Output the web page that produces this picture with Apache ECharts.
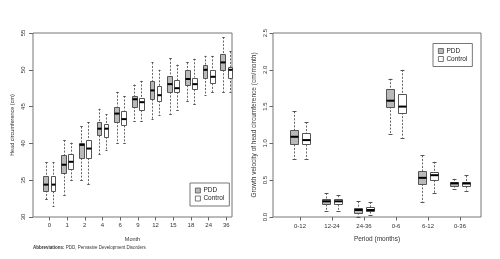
<!DOCTYPE html>
<html>
<head>
<meta charset="utf-8">
<script src="https://cdn.jsdelivr.net/npm/echarts@6/dist/echarts.min.js"></script>
<style>html,body{margin:0;padding:0;background:#fff}#c{width:500px;height:259px}</style>
</head>
<body>
<div id="c"></div>
<script>
// ---------- data ----------
const months = ['0','1','2','4','6','9','12','15','18','24','36'];
// [low whisker, Q1, median, Q3, high whisker]
const hcPDD = [
  [32.4, 33.6, 34.4, 35.55, 37.45],
  [33.05, 36.0, 37.1, 38.36, 40.45],
  [35.05, 38.0, 39.8, 40.0, 42.3],
  [38.55, 41.1, 42.0, 42.95, 44.7],
  [40.0, 42.95, 44.05, 45.0, 47.0],
  [43.1, 45.0, 46.0, 46.45, 48.0],
  [43.27, 46.0, 47.2, 48.5, 51.0],
  [44.05, 47.0, 48.05, 49.2, 51.55],
  [45.8, 47.9, 48.75, 49.95, 51.0],
  [46.55, 48.95, 50.0, 50.7, 51.9],
  [47.0, 50.0, 51.0, 52.1, 54.45]
];
const hcControl = [
  [31.55, 33.5, 34.4, 35.55, 37.45],
  [35.05, 36.55, 37.5, 38.6, 40.1],
  [34.5, 38.0, 39.3, 40.5, 42.9],
  [39.04, 40.9, 42.0, 42.6, 44.0],
  [40.0, 42.45, 43.3, 44.45, 46.45],
  [43.05, 44.5, 45.6, 46.2, 48.5],
  [43.8, 45.8, 46.55, 47.8, 50.0],
  [44.6, 47.0, 47.5, 48.6, 50.7],
  [45.3, 47.35, 48.05, 48.95, 51.5],
  [47.0, 48.15, 49.05, 50.0, 51.9],
  [47.0, 48.95, 50.0, 50.4, 52.5]
];
const hcTicks = [30, 35, 40, 45, 50, 55];

const periods = ['0-12','12-24','24-36','0-6','6-12','0-36'];
const gvPDD = [
  [0.79, 0.986, 1.09, 1.177, 1.436],
  [0.086, 0.172, 0.213, 0.247, 0.327],
  [0.005, 0.06, 0.095, 0.125, 0.215],
  [1.13, 1.5, 1.58, 1.745, 1.88],
  [0.205, 0.45, 0.532, 0.623, 0.836],
  [0.385, 0.427, 0.457, 0.48, 0.518]
];
const gvControl = [
  [0.79, 0.986, 1.045, 1.136, 1.29],
  [0.086, 0.172, 0.213, 0.247, 0.295],
  [0.028, 0.075, 0.095, 0.134, 0.205],
  [1.077, 1.418, 1.5, 1.668, 2.0],
  [0.327, 0.5, 0.568, 0.61, 0.75],
  [0.36, 0.418, 0.455, 0.48, 0.564]
];
const gvTicks = [0, 0.5, 1.0, 1.5, 2.0, 2.5];

// ---------- style ----------
const FONT = 'Liberation Sans, Arial, sans-serif';
const PDD_FILL = '#b9b9b9';
const CTRL_FILL = '#ffffff';
const BOX_BORDER = '#555555';

function makeRender(offFrac, widFrac, fill) {
  return function (params, api) {
    const i = api.value(0);
    const band = api.size([1, 0])[0];
    const cx = api.coord([i, 0])[0] + offFrac * band;
    const w = widFrac * band;
    const yLo = api.coord([i, api.value(1)])[1];
    const yQ1 = api.coord([i, api.value(2)])[1];
    const yMed = api.coord([i, api.value(3)])[1];
    const yQ3 = api.coord([i, api.value(4)])[1];
    const yHi = api.coord([i, api.value(5)])[1];
    const xl = Math.round(cx - w / 2) + 0.5;
    const xr = Math.round(cx + w / 2) + 0.5;
    const xc = Math.round(cx) + 0.5;
    const capW = (xr - xl) * 0.5;
    const dash = { stroke: '#666', lineWidth: 1, lineDash: [2, 1.5] };
    const solid = { stroke: '#555', lineWidth: 1 };
    return {
      type: 'group',
      children: [
        { type: 'line', shape: { x1: xc, y1: yHi, x2: xc, y2: yQ3 }, style: dash },
        { type: 'line', shape: { x1: xc, y1: yQ1, x2: xc, y2: yLo }, style: dash },
        { type: 'line', shape: { x1: xc - capW / 2, y1: Math.round(yHi) + 0.5, x2: xc + capW / 2, y2: Math.round(yHi) + 0.5 }, style: solid },
        { type: 'line', shape: { x1: xc - capW / 2, y1: Math.round(yLo) + 0.5, x2: xc + capW / 2, y2: Math.round(yLo) + 0.5 }, style: solid },
        { type: 'rect', shape: { x: xl, y: Math.round(yQ3) + 0.5, width: xr - xl, height: Math.round(yQ1) - Math.round(yQ3) },
          style: { fill: fill, stroke: BOX_BORDER, lineWidth: 1 } },
        { type: 'line', shape: { x1: xl, y1: yMed, x2: xr, y2: yMed }, style: { stroke: '#000', lineWidth: 2 } }
      ]
    };
  };
}

function toData(arr) { return arr.map((d, i) => [i].concat(d)); }

const chart = echarts.init(document.getElementById('c'), null, { renderer: 'canvas' });

const tickLabel = { fontFamily: FONT, fontSize: 6, color: '#333' };
const nameStyleL = { fontFamily: FONT, fontSize: 5.5, color: '#333' };
const nameStyleR = { fontFamily: FONT, fontSize: 6.5, color: '#333' };

const option = {
  animation: false,
  backgroundColor: '#fff',
  grid: [
    { left: 33, top: 33, width: 199, height: 184, show: true, borderColor: '#777', borderWidth: 1, backgroundColor: 'transparent' },
    { left: 40.5, top: 33, width: 194.7, height: 184 },
    { left: 273, top: 33, width: 208, height: 184, show: true, borderColor: '#777', borderWidth: 1, backgroundColor: 'transparent' },
    { left: 284, top: 33, width: 192, height: 184 }
  ],
  xAxis: [
    { gridIndex: 0, type: 'value', min: 0, max: 1, axisLine: { show: false }, axisTick: { show: false },
      axisLabel: { show: false }, splitLine: { show: false },
      name: 'Month', nameLocation: 'middle', nameGap: 19, nameTextStyle: nameStyleL },
    { gridIndex: 1, type: 'category', data: months, axisLine: { show: false },
      axisTick: { show: true, alignWithLabel: true, length: 3.5, lineStyle: { color: '#666' } },
      axisLabel: Object.assign({ interval: 0, margin: 5 }, tickLabel), splitLine: { show: false } },
    { gridIndex: 2, type: 'value', min: 0, max: 1, axisLine: { show: false }, axisTick: { show: false },
      axisLabel: { show: false }, splitLine: { show: false },
      name: 'Period (months)', nameLocation: 'middle', nameGap: 19, nameTextStyle: nameStyleR },
    { gridIndex: 3, type: 'category', data: periods, axisLine: { show: false },
      axisTick: { show: true, alignWithLabel: true, length: 3.5, lineStyle: { color: '#666' } },
      axisLabel: Object.assign({ interval: 0, margin: 6.5 }, tickLabel), splitLine: { show: false } }
  ],
  yAxis: [
    { gridIndex: 0, type: 'value', min: hcTicks[0], max: hcTicks[hcTicks.length - 1], interval: 5,
      axisLine: { show: false }, axisTick: { show: true, length: 4, lineStyle: { color: '#666' } },
      axisLabel: Object.assign({ rotate: 90, margin: 7 }, tickLabel), splitLine: { show: false },
      name: 'Head circumference (cm)', nameLocation: 'middle', nameGap: 18, nameTextStyle: nameStyleL },
    { gridIndex: 1, type: 'value', min: hcTicks[0], max: hcTicks[hcTicks.length - 1], show: false, splitLine: { show: false } },
    { gridIndex: 2, type: 'value', min: gvTicks[0], max: gvTicks[gvTicks.length - 1], interval: 0.5,
      axisLine: { show: false }, axisTick: { show: true, length: 3.5, lineStyle: { color: '#666' } },
      axisLabel: Object.assign({ rotate: 90, margin: 5, formatter: v => v.toFixed(1) }, tickLabel), splitLine: { show: false },
      name: 'Growth velocity of head circumference (cm/month)', nameLocation: 'middle', nameGap: 15, nameTextStyle: nameStyleR },
    { gridIndex: 3, type: 'value', min: gvTicks[0], max: gvTicks[gvTicks.length - 1], show: false, splitLine: { show: false } }
  ],
  legend: [
    { orient: 'vertical', left: 190, top: 183, padding: [4, 5, 4, 5], itemGap: 1, itemWidth: 5, itemHeight: 5,
      borderColor: '#777', borderWidth: 1, backgroundColor: '#fff',
      textStyle: { fontFamily: FONT, fontSize: 6.5, color: '#222', padding: [0, 0, 0, -2] },
      data: [
        { name: 'PDD', icon: 'rect', itemStyle: { color: PDD_FILL, borderColor: BOX_BORDER, borderWidth: 0.8 } },
        { name: 'Control', icon: 'rect', itemStyle: { color: CTRL_FILL, borderColor: BOX_BORDER, borderWidth: 0.8 } }
      ] },
    { orient: 'vertical', left: 433, top: 43.5, padding: [4, 5, 4, 5], itemGap: 1, itemWidth: 5, itemHeight: 5,
      borderColor: '#777', borderWidth: 1, backgroundColor: '#fff',
      textStyle: { fontFamily: FONT, fontSize: 6.5, color: '#222', padding: [0, 0, 0, -2] },
      data: [
        { name: 'PDD', icon: 'rect', itemStyle: { color: PDD_FILL, borderColor: BOX_BORDER, borderWidth: 0.8 } },
        { name: 'Control', icon: 'rect', itemStyle: { color: CTRL_FILL, borderColor: BOX_BORDER, borderWidth: 0.8 } }
      ] }
  ],
  series: [
    { name: 'PDD', type: 'custom', xAxisIndex: 1, yAxisIndex: 1, renderItem: makeRender(-0.2, 0.27, PDD_FILL),
      itemStyle: { color: PDD_FILL, borderColor: BOX_BORDER }, encode: { x: 0, y: [1, 2, 3, 4, 5] }, data: toData(hcPDD) },
    { name: 'Control', type: 'custom', xAxisIndex: 1, yAxisIndex: 1, renderItem: makeRender(0.2, 0.27, CTRL_FILL),
      itemStyle: { color: CTRL_FILL, borderColor: BOX_BORDER }, encode: { x: 0, y: [1, 2, 3, 4, 5] }, data: toData(hcControl) },
    { name: 'PDD', type: 'custom', xAxisIndex: 3, yAxisIndex: 3, renderItem: makeRender(-0.19, 0.27, PDD_FILL),
      itemStyle: { color: PDD_FILL, borderColor: BOX_BORDER }, encode: { x: 0, y: [1, 2, 3, 4, 5] }, data: toData(gvPDD) },
    { name: 'Control', type: 'custom', xAxisIndex: 3, yAxisIndex: 3, renderItem: makeRender(0.19, 0.27, CTRL_FILL),
      itemStyle: { color: CTRL_FILL, borderColor: BOX_BORDER }, encode: { x: 0, y: [1, 2, 3, 4, 5] }, data: toData(gvControl) }
  ],
  graphic: [
    { type: 'text', left: 33, top: 245.5,
      style: { text: '{b|Abbreviations:} PDD, Pervasive Development Disorders',
        rich: { b: { fontWeight: 'bold', fontFamily: FONT, fontSize: 4.5, fill: '#333' } },
        font: '4.5px ' + FONT, fill: '#333' } }
  ]
};
chart.setOption(option);
</script>
</body>
</html>
